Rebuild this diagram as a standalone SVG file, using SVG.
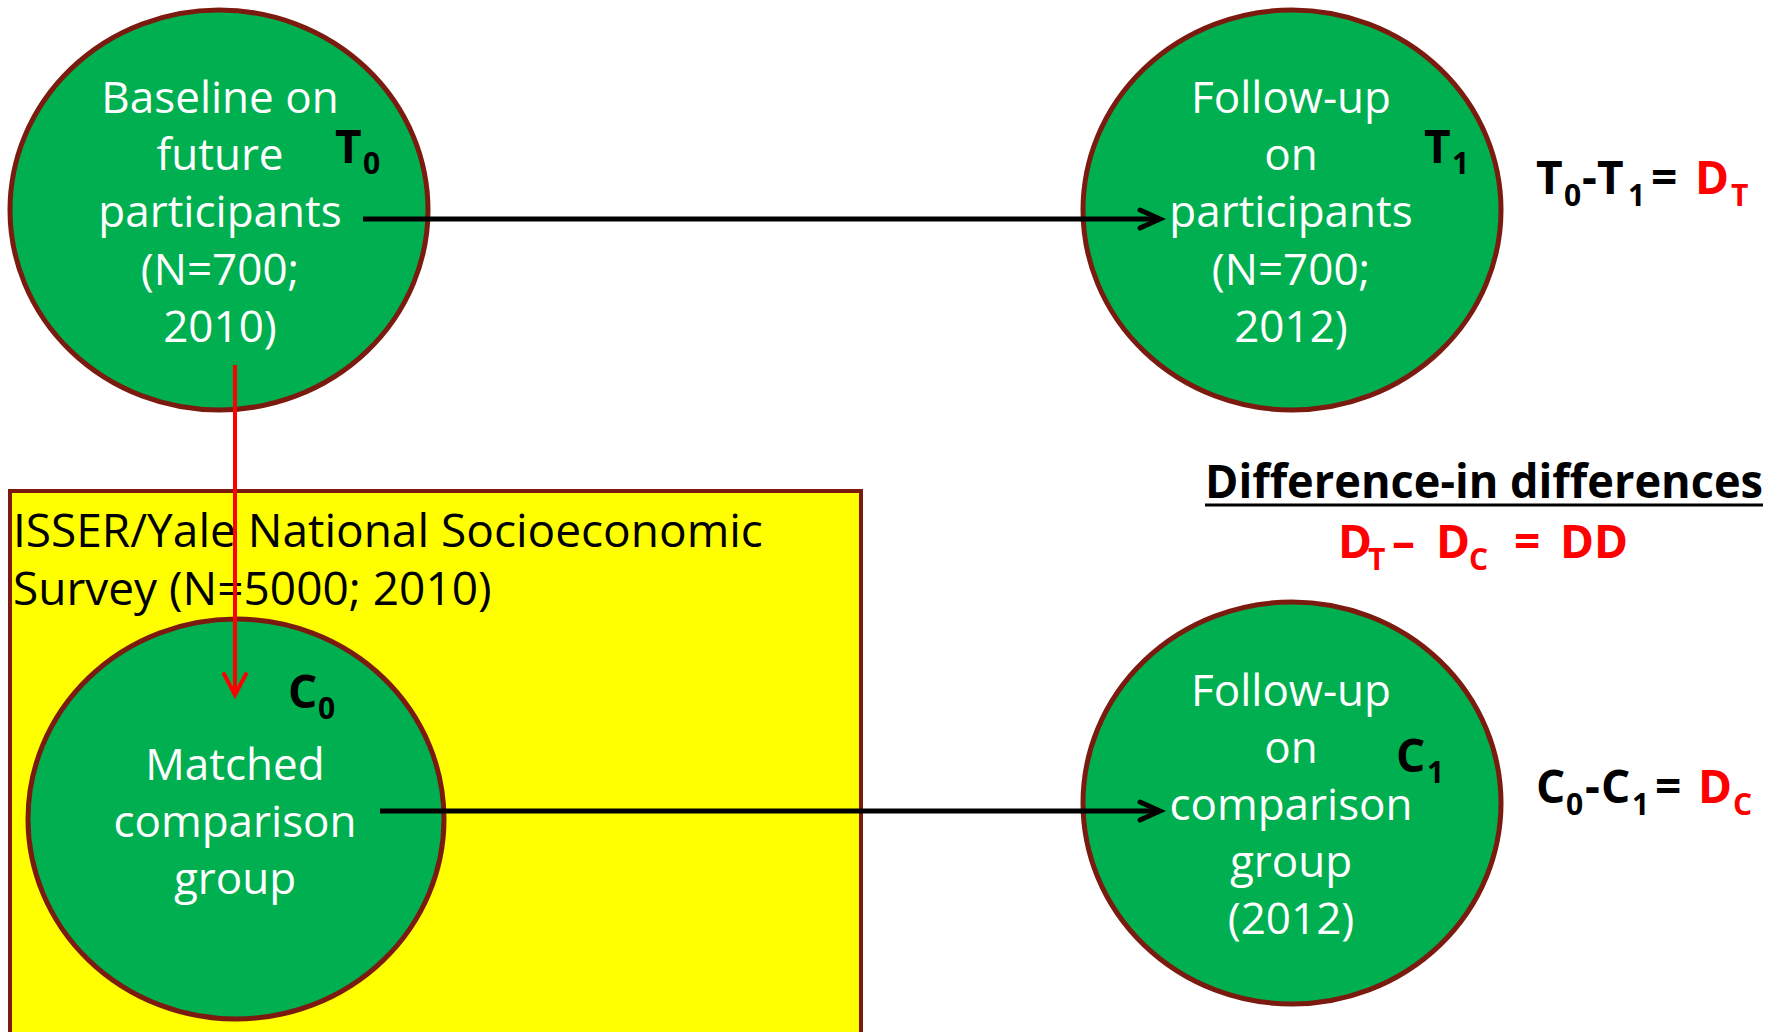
<svg xmlns="http://www.w3.org/2000/svg" width="1781" height="1032" viewBox="0 0 1781 1032">
  <style>
    .bubble { fill: #00B050; stroke: #7B1B10; stroke-width: 5; }
    .frame { fill: #FFFF00; stroke: #7B1B10; stroke-width: 4; }
    .nt { font-family: "Open Sans", "Noto Sans", sans-serif; font-size: 44px; fill: #FFFFFF; text-anchor: middle; }
    .st { font-family: "Open Sans", "Noto Sans", sans-serif; font-size: 46px; fill: #000000; }
    .lbl { font-family: "Open Sans", "Noto Sans", sans-serif; font-weight: bold; font-size: 46px; fill: #000000; }
    .sub { font-size: 30px; }
    .red { fill: #FF0000; }
    .conn { fill: none; }
  </style>
  <defs>
    <marker id="tipBlack" viewBox="0 0 30 30" markerWidth="30" markerHeight="30" refX="24" refY="15" orient="auto" markerUnits="userSpaceOnUse">
      <path d="M4,6 L24,15 L4,24" fill="none" stroke="#000000" stroke-width="5" stroke-linecap="round"/>
    </marker>
    <marker id="tipRed" viewBox="0 0 30 30" markerWidth="30" markerHeight="30" refX="24" refY="15" orient="auto" markerUnits="userSpaceOnUse">
      <path d="M3,4 L24,15 L3,26" fill="none" stroke="#FF0000" stroke-width="4" stroke-linecap="round"/>
    </marker>
  </defs>

  <rect width="1781" height="1032" fill="#FFFFFF"/>

  <!-- national survey sample frame -->
  <g id="survey-frame">
    <rect class="frame" x="10" y="491" width="851" height="560"/>
    <text class="st" x="13" y="547">ISSER/Yale National Socioeconomic</text>
    <text class="st" x="13" y="605">Survey (N=5000; 2010)</text>
  </g>

  <!-- treatment baseline -->
  <g id="node-t0">
    <ellipse class="bubble" cx="219" cy="210" rx="209" ry="200"/>
    <text class="nt" x="220" y="113">Baseline on</text>
    <text class="nt" x="220" y="170">future</text>
    <text class="nt" x="220" y="227">participants</text>
    <text class="nt" x="220" y="285">(N=700;</text>
    <text class="nt" x="220" y="342">2010)</text>
    <text class="lbl"><tspan x="335" y="163">T</tspan><tspan class="sub" x="363" y="174">0</tspan></text>
  </g>

  <!-- treatment follow-up -->
  <g id="node-t1">
    <ellipse class="bubble" cx="1292" cy="210" rx="209" ry="200"/>
    <text class="nt" x="1291" y="113">Follow-up</text>
    <text class="nt" x="1291" y="170">on</text>
    <text class="nt" x="1291" y="227">participants</text>
    <text class="nt" x="1291" y="285">(N=700;</text>
    <text class="nt" x="1291" y="342">2012)</text>
    <text class="lbl"><tspan x="1424" y="163">T</tspan><tspan class="sub" x="1452" y="174">1</tspan></text>
  </g>

  <!-- comparison baseline -->
  <g id="node-c0">
    <ellipse class="bubble" cx="236" cy="819" rx="208" ry="200"/>
    <text class="nt" x="235" y="780">Matched</text>
    <text class="nt" x="235" y="837">comparison</text>
    <text class="nt" x="235" y="894">group</text>
    <text class="lbl"><tspan x="288" y="708">C</tspan><tspan class="sub" x="318" y="719">0</tspan></text>
  </g>

  <!-- comparison follow-up -->
  <g id="node-c1">
    <ellipse class="bubble" cx="1292" cy="803" rx="209" ry="201"/>
    <text class="nt" x="1291" y="706">Follow-up</text>
    <text class="nt" x="1291" y="763">on</text>
    <text class="nt" x="1291" y="820">comparison</text>
    <text class="nt" x="1291" y="877">group</text>
    <text class="nt" x="1291" y="934">(2012)</text>
    <text class="lbl"><tspan x="1396" y="772">C</tspan><tspan class="sub" x="1427" y="783">1</tspan></text>
  </g>

  <!-- difference formulas -->
  <g id="formula-dt">
    <text class="lbl"><tspan x="1536" y="194">T</tspan><tspan class="sub" x="1564" y="206">0</tspan><tspan x="1582" y="194">-</tspan><tspan x="1597" y="194">T</tspan><tspan class="sub" x="1628" y="206">1</tspan><tspan x="1651" y="194">=</tspan><tspan class="red" x="1695" y="194">D</tspan><tspan class="red sub" x="1731" y="206">T</tspan></text>
  </g>
  <g id="formula-dc">
    <text class="lbl"><tspan x="1536" y="803">C</tspan><tspan class="sub" x="1566" y="815">0</tspan><tspan x="1585" y="803">-</tspan><tspan x="1601" y="803">C</tspan><tspan class="sub" x="1632" y="815">1</tspan><tspan x="1655" y="803">=</tspan><tspan class="red" x="1698" y="803">D</tspan><tspan class="red sub" x="1733" y="815">C</tspan></text>
  </g>
  <g id="formula-dd">
    <text class="lbl" x="1205" y="498" textLength="558" lengthAdjust="spacingAndGlyphs">Difference-in differences</text>
    <line x1="1205" y1="505" x2="1763" y2="505" stroke="#000000" stroke-width="3"/>
    <text class="lbl red"><tspan x="1338" y="558">D</tspan><tspan class="sub" x="1368" y="570">T</tspan><tspan x="1392" y="558">–</tspan><tspan x="1436" y="558">D</tspan><tspan class="sub" x="1469" y="570">C</tspan><tspan x="1514" y="558">=</tspan><tspan x="1560" y="558">DD</tspan></text>
  </g>

  <!-- connectors -->
  <g id="connectors">
    <line class="conn" x1="363" y1="219" x2="1160" y2="219" stroke="#000000" stroke-width="5" marker-end="url(#tipBlack)"/>
    <line class="conn" x1="380" y1="811" x2="1160" y2="811" stroke="#000000" stroke-width="5" marker-end="url(#tipBlack)"/>
    <line class="conn" x1="235" y1="365" x2="235" y2="695" stroke="#FF0000" stroke-width="4" marker-end="url(#tipRed)"/>
  </g>
</svg>
